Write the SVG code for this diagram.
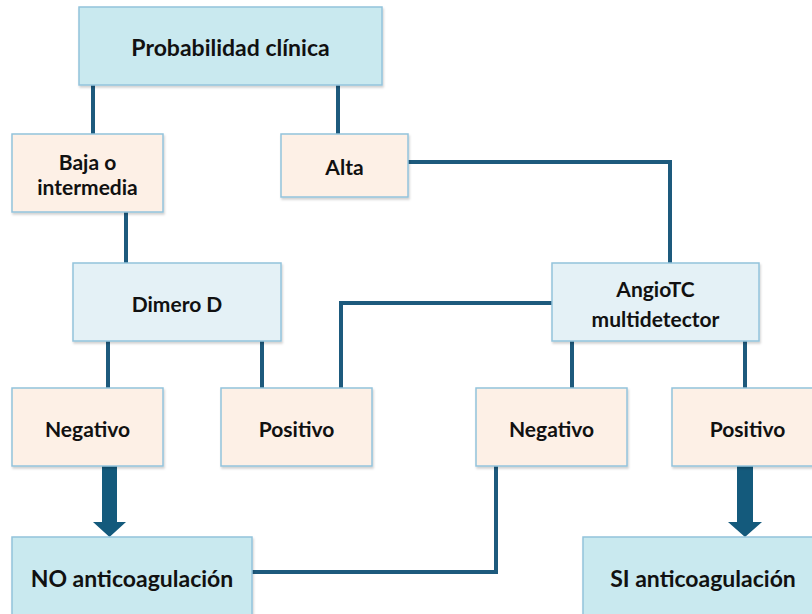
<svg xmlns="http://www.w3.org/2000/svg" width="812" height="614" viewBox="0 0 812 614">
  <style>
    .box { stroke: #93c3dc; stroke-width: 1.5; filter: url(#shadow); }
    .main { fill: #c9e9ef; }
    .test { fill: #e4f1f6; }
    .res { fill: #fdf0e6; }
    .lbl { font-family: Lato, "Open Sans", sans-serif; font-weight: bold; font-size: 21px; fill: #111; text-anchor: middle; }
    .big { font-size: 23px; }
    .wire { fill: none; stroke: #1d5a7d; stroke-width: 4; }
    .fat { fill: #145a7c; }
  </style>
  <defs>
    <filter id="shadow" x="-10%" y="-10%" width="120%" height="130%">
      <feDropShadow dx="1" dy="2" stdDeviation="1.2" flood-color="#000" flood-opacity="0.18"/>
    </filter>
  </defs>
  <rect width="812" height="614" fill="#fff"/>

  <g id="connectors">
    <path class="wire" d="M93 85 V134"/>
    <path class="wire" d="M338 85 V134"/>
    <path class="wire" d="M408 162 H670 V263"/>
    <path class="wire" d="M126 212 V263"/>
    <path class="wire" d="M108 341 V388"/>
    <path class="wire" d="M262 341 V388"/>
    <path class="wire" d="M553 303 H341 V388"/>
    <path class="wire" d="M572 341 V388"/>
    <path class="wire" d="M745 341 V388"/>
    <path class="wire" d="M252 572 H496 V466"/>
    <path class="fat" d="M102 466 H117 V522 H126 L109.5 537 L93 522 H102 Z"/>
    <path class="fat" d="M737 466 H753 V522 H762 L745 537 L728 522 H737 Z"/>
  </g>

  <g id="probabilidad">
    <rect class="box main" x="79" y="7" width="303" height="78"/>
    <text class="lbl big" x="230.5" y="56">Probabilidad clínica</text>
  </g>
  <g id="baja">
    <rect class="box res" x="12" y="134" width="151" height="78"/>
    <text class="lbl" x="87.5" y="170">Baja o</text>
    <text class="lbl" x="87.5" y="195">intermedia</text>
  </g>
  <g id="alta">
    <rect class="box res" x="281" y="134" width="127" height="63"/>
    <text class="lbl" x="344.5" y="175">Alta</text>
  </g>
  <g id="dimero">
    <rect class="box test" x="73" y="263" width="208" height="78"/>
    <text class="lbl" x="177" y="312">Dimero D</text>
  </g>
  <g id="angiotc">
    <rect class="box test" x="552" y="263" width="207" height="78"/>
    <text class="lbl" x="655.5" y="297">AngioTC</text>
    <text class="lbl" x="655.5" y="327">multidetector</text>
  </g>
  <g id="dd-negativo">
    <rect class="box res" x="12" y="388" width="151" height="78"/>
    <text class="lbl" x="87.5" y="437">Negativo</text>
  </g>
  <g id="dd-positivo">
    <rect class="box res" x="221" y="388" width="151" height="78"/>
    <text class="lbl" x="296.5" y="437">Positivo</text>
  </g>
  <g id="tc-negativo">
    <rect class="box res" x="476" y="388" width="151" height="78"/>
    <text class="lbl" x="551.5" y="437">Negativo</text>
  </g>
  <g id="tc-positivo">
    <rect class="box res" x="672" y="388" width="151" height="78"/>
    <text class="lbl" x="747.5" y="437">Positivo</text>
  </g>
  <g id="no-anticoagulacion">
    <rect class="box main" x="12" y="537" width="240" height="90"/>
    <text class="lbl big" x="132" y="587">NO anticoagulación</text>
  </g>
  <g id="si-anticoagulacion">
    <rect class="box main" x="583" y="537" width="240" height="90"/>
    <text class="lbl big" x="703" y="587">SI anticoagulación</text>
  </g>
</svg>
